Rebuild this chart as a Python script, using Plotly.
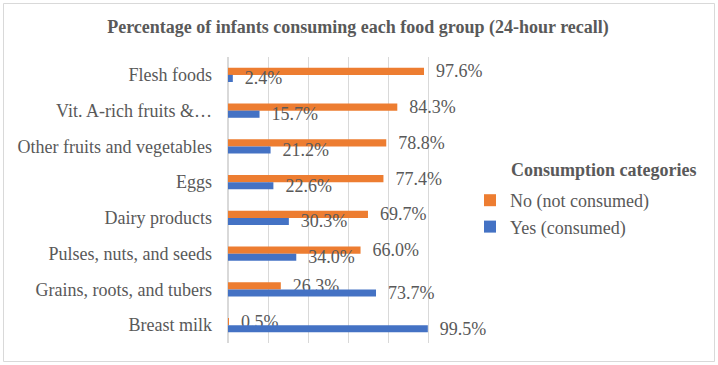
import plotly.graph_objects as go

categories = ["Flesh foods", "Vit. A-rich fruits &\u2026", "Other fruits and vegetables", "Eggs",
              "Dairy products", "Pulses, nuts, and seeds", "Grains, roots, and tubers", "Breast milk"]
no_vals = [97.6, 84.3, 78.8, 77.4, 69.7, 66.0, 26.3, 0.5]
yes_vals = [2.4, 15.7, 21.2, 22.6, 30.3, 34.0, 73.7, 99.5]
series_names = ["No (not consumed)", "Yes (consumed)"]
legend_title = "Consumption categories"
colors = ["#ED7D31", "#4472C4"]

W, H = 718, 365
L, R, T, B = 228, 249, 57, 22
pw, ph = W - L - R, H - T - B

FONT = "Liberation Serif, Times New Roman, serif"
GRAY = "#595959"

fig = go.Figure()
for i, (name, vals, c) in enumerate(zip(series_names, [no_vals, yes_vals], colors)):
    fig.add_trace(go.Bar(
        y=categories, x=vals, name=name, orientation="h",
        legendgroup=f"g{i}",
        marker=dict(color=c, line=dict(width=0)),
        text=vals, texttemplate="\u00a0\u00a0%{x:.1f}%", textposition="outside",
        constraintext="none", cliponaxis=False,
        textfont=dict(family=FONT, size=18, color=GRAY),
        hoverinfo="skip",
    ))

fig.update_layout(
    width=W, height=H,
    margin=dict(l=L, r=R, t=T, b=B),
    paper_bgcolor="white", plot_bgcolor="white",
    barmode="group", bargap=0.6, bargroupgap=0,
    font=dict(family=FONT, color=GRAY),
    title=dict(text="<b>Percentage of infants consuming each food group (24-hour recall)</b>",
               font=dict(family=FONT, size=18, color=GRAY),
               x=(358 - L) / pw, xref="paper", xanchor="center",
               y=1 - 27 / H, yref="container", yanchor="middle"),
    xaxis=dict(range=[0, 120], dtick=20, showgrid=True, gridcolor="#D9D9D9", gridwidth=1,
               showticklabels=False, zeroline=True, zerolinecolor="#D9D9D9",
               showline=False, fixedrange=True),
    yaxis=dict(autorange="reversed", showgrid=False, showline=False,
               tickfont=dict(family=FONT, size=18, color=GRAY),
               ticklabelstandoff=15, ticks=""),
    legend=dict(font=dict(family=FONT, size=18, color=GRAY),
                x=(470 - L) / pw, xanchor="left",
                y=(H - B - 182) / ph, yanchor="top",
                traceorder="normal", tracegroupgap=9, bgcolor="rgba(0,0,0,0)"),
    showlegend=True,
)

fig.add_annotation(text=f"<b>{legend_title}</b>", xref="paper", yref="paper",
                   x=(509 - L) / pw, y=(H - B - 170) / ph, xanchor="left", yanchor="middle",
                   showarrow=False, font=dict(family=FONT, size=18, color=GRAY))

fig.add_shape(type="rect", xref="paper", yref="paper",
              x0=(3.5 - L) / pw, x1=(714.5 - L) / pw,
              y0=(H - B - 361.5) / ph, y1=(H - B - 3.5) / ph,
              line=dict(color="#D9D9D9", width=1), fillcolor="rgba(0,0,0,0)", layer="below")

fig.write_html("out.html")
